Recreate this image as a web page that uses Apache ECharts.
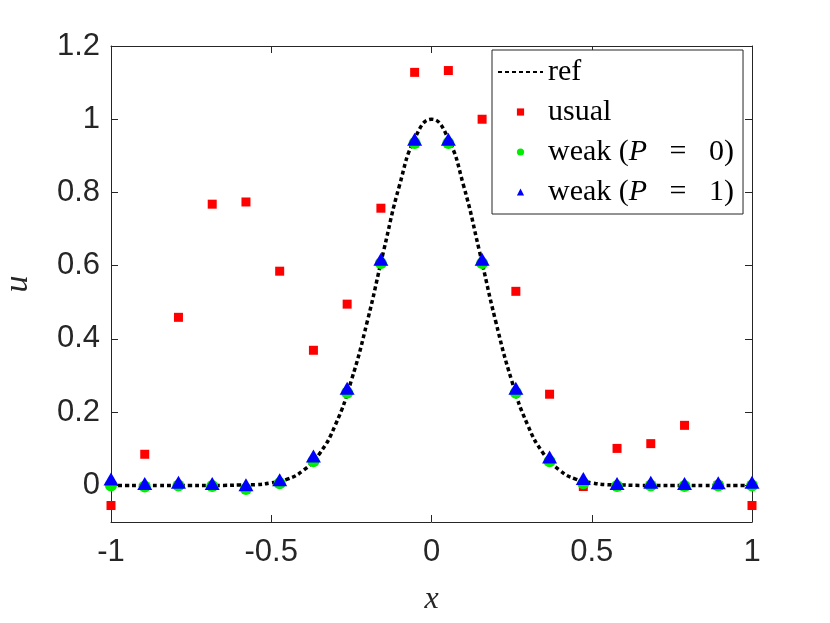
<!DOCTYPE html>
<html>
<head>
<meta charset="utf-8">
<script src="https://cdn.jsdelivr.net/npm/echarts@6/dist/echarts.min.js"></script>
<style>
  html, body { margin: 0; padding: 0; background: #fff; }
  #main { width: 830px; height: 623px; }
</style>
</head>
<body>
<div id="main"></div>
<script>
// grid nodes of the scheme
const nodes = [-1, -0.8947, -0.7895, -0.6842, -0.5789, -0.4737, -0.3684, -0.2632, -0.1579, -0.0526,
  0.0526, 0.1579, 0.2632, 0.3684, 0.4737, 0.5789, 0.6842, 0.7895, 0.8947, 1]

const usual = [-0.055, 0.085, 0.459, 0.768, 0.774, 0.585, 0.369, 0.495, 0.757, 1.128,
  1.133, 1.0, 0.53, 0.249, -0.003, 0.101, 0.114, 0.164, 0.0, -0.055]
const weakP0 = [0.0, -0.003, 0.0, -0.002, -0.01, 0.006, 0.066, 0.253, 0.607, 0.935,
  0.935, 0.607, 0.253, 0.066, 0.006, -0.002, 0.0, -0.002, 0.0, 0.0]
const weakP1 = [0.012, 0.0, 0.003, 0.0, -0.004, 0.01, 0.075, 0.26, 0.612, 0.94,
  0.94, 0.612, 0.26, 0.072, 0.013, 0.0, 0.003, 0.0, 0.002, 0.003]

// reference curve read at 0.05 steps
const refX = [-1, -0.95, -0.9, -0.85, -0.8, -0.75, -0.7, -0.65, -0.6, -0.55, -0.5, -0.45, -0.4, -0.35, -0.3,
  -0.25, -0.2, -0.15, -0.1, -0.05, 0, 0.05, 0.1, 0.15, 0.2, 0.25, 0.3, 0.35, 0.4, 0.45, 0.5,
  0.55, 0.6, 0.65, 0.7, 0.75, 0.8, 0.85, 0.9, 0.95, 1]
const refU = [0, 0, 0, 0, 0, 0, 0, 0, 0.001, 0.002, 0.007, 0.017, 0.041, 0.086, 0.165,
  0.287, 0.449, 0.638, 0.819, 0.951, 1, 0.951, 0.819, 0.638, 0.449, 0.287, 0.165, 0.086, 0.041, 0.017, 0.007,
  0.002, 0.001, 0, 0, 0, 0, 0, 0, 0, 0]

const xTicks = [-1, -0.5, 0, 0.5, 1]
const yTicks = [0, 0.2, 0.4, 0.6, 0.8, 1, 1.2]

const pair = (xs, ys) => xs.map((x, i) => [x, ys[i]])

const axisColor = '#262626'
const tickFont = { fontFamily: 'Liberation Sans', fontSize: 31, color: axisColor }

const chart = echarts.init(document.getElementById('main'))

const option = {
  animation: false,
  grid: { left: 111, right: 78, top: 46, bottom: 101, outerBoundsMode: 'none' },
  legend: {
    left: 492, top: 50,
    orient: 'vertical',
    backgroundColor: '#fff',
    borderColor: axisColor,
    borderWidth: 1,
    padding: [7, 9, 7, 5],
    itemWidth: 45,
    itemHeight: 9,
    itemGap: 10,
    textStyle: {
      fontFamily: 'Liberation Serif', fontSize: 30, color: '#000', lineHeight: 30,
      rich: { i: { fontFamily: 'Liberation Serif', fontStyle: 'italic', fontSize: 30, lineHeight: 30 } }
    },
    formatter: name => name.replace(/P/, '{i|P}'),
    data: [
      { name: 'ref', itemStyle: { opacity: 0 } },
      'usual', 'weak (P   =   0)', 'weak (P   =   1)'
    ]
  },
  xAxis: [{
    type: 'value', min: -1, max: 1, interval: 0.5,
    name: 'x', nameLocation: 'middle', nameGap: 62,
    nameTextStyle: { fontFamily: 'Liberation Serif', fontStyle: 'italic', fontSize: 32, color: axisColor },
    axisLine: { show: true, onZero: false, lineStyle: { color: axisColor } },
    axisTick: { inside: true, length: 7, lineStyle: { color: axisColor } },
    axisLabel: { ...tickFont, margin: 15, customValues: xTicks },
    splitLine: { show: false }
  }, {
    type: 'value', min: -1, max: 1, interval: 0.5, position: 'top',
    axisLine: { show: true, onZero: false, lineStyle: { color: axisColor } },
    axisTick: { inside: true, length: 7, lineStyle: { color: axisColor } },
    axisLabel: { show: false },
    splitLine: { show: false }
  }],
  yAxis: [{
    type: 'value', min: -0.1, max: 1.2,
    name: 'u', nameLocation: 'middle', nameGap: 76, nameRotate: 90,
    nameTextStyle: { fontFamily: 'Liberation Serif', fontStyle: 'italic', fontSize: 34, color: axisColor },
    axisLine: { show: true, onZero: false, lineStyle: { color: axisColor } },
    axisTick: { inside: true, length: 7, lineStyle: { color: axisColor }, customValues: yTicks },
    axisLabel: { ...tickFont, margin: 11, customValues: yTicks },
    splitLine: { show: false }
  }, {
    type: 'value', min: -0.1, max: 1.2, position: 'right',
    axisLine: { show: true, onZero: false, lineStyle: { color: axisColor } },
    axisTick: { inside: true, length: 7, lineStyle: { color: axisColor }, customValues: yTicks },
    axisLabel: { show: false },
    splitLine: { show: false }
  }],
  series: [
    {
      name: 'ref', type: 'line', data: pair(refX, refU), smooth: true,
      symbol: 'none', clip: false,
      lineStyle: { color: '#000', width: 3.5, type: [4, 3], cap: 'butt' },
      itemStyle: { color: '#000' }, z: 1
    },
    {
      name: 'usual', type: 'line', data: pair(nodes, usual),
      symbol: 'rect', symbolSize: 9, showAllSymbol: true, clip: false,
      lineStyle: { width: 0 }, itemStyle: { color: '#ff0000' }, z: 2
    },
    {
      name: 'weak (P   =   0)', type: 'line', data: pair(nodes, weakP0),
      symbol: 'circle', symbolSize: 12, showAllSymbol: true, clip: false,
      lineStyle: { width: 0 }, itemStyle: { color: '#00ee00' }, z: 3
    },
    {
      name: 'weak (P   =   1)', type: 'line', data: pair(nodes, weakP1),
      symbol: 'triangle', symbolSize: [15, 13], symbolOffset: [0, -2], showAllSymbol: true, clip: false,
      lineStyle: { width: 0 }, itemStyle: { color: '#0000ff' }, z: 4
    }
  ]
}

chart.setOption(option)
</script>
</body>
</html>
